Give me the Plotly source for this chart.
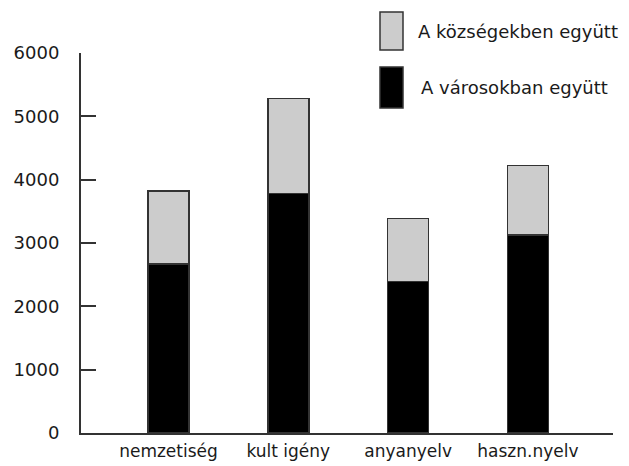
import plotly.graph_objects as go

categories = ["nemzetiség", "kult igény", "anyanyelv", "haszn.nyelv"]
varosokban = [2670, 3785, 2390, 3125]
kozsegekben = [1155, 1500, 1000, 1095]
series_names = ["A városokban együtt", "A községekben együtt"]
y_ticks = [0, 1000, 2000, 3000, 4000, 5000, 6000]

W, H = 629, 466
OFF = 8  # page body margin offset
# target plot area in screenshot pixels
X0, X1, Y0, Y1 = 81, 613, 53, 433
ML, MT = X0 - OFF, Y0 - OFF
PW, PH = X1 - X0, Y1 - Y0
MR, MB = W - ML - PW, H - MT - PH

def px_x(x):
    return (x - X0) / PW

def px_y(y):
    return (Y1 - y) / PH

FONT = "DejaVu Sans"
TXT = "#1a1a1a"
OUT = "#333333"

fig = go.Figure()
fig.add_trace(go.Bar(
    x=categories, y=varosokban, name=series_names[0],
    marker=dict(color="#000000", line=dict(color=OUT, width=1.5)),
    width=0.342, showlegend=False,
))
fig.add_trace(go.Bar(
    x=categories, y=kozsegekben, name=series_names[1],
    marker=dict(color="#cccccc", line=dict(color=OUT, width=1.5)),
    width=0.342, showlegend=False,
))

# custom legend (large swatches)
legend_items = [
    (series_names[1], "#cccccc", 12, 50, 416),
    (series_names[0], "#000000", 67, 108, 419),
]
for name, col, y0, y1, tx in legend_items:
    fig.add_shape(type="rect", xref="paper", yref="paper",
                  x0=px_x(380), x1=px_x(403), y0=px_y(y1), y1=px_y(y0),
                  fillcolor=col, line=dict(color=OUT, width=1.5))
    fig.add_annotation(xref="paper", yref="paper", x=px_x(tx), y=px_y((y0 + y1) / 2),
                       text=name, showarrow=False, xanchor="left", yanchor="middle",
                       font=dict(family=FONT, size=18, color=TXT))

fig.update_layout(
    width=W, height=H, barmode="stack",
    margin=dict(l=ML, r=MR, t=MT, b=MB, autoexpand=False),
    paper_bgcolor="white", plot_bgcolor="white",
    font=dict(family=FONT, size=17, color=TXT),
    xaxis=dict(type="category", range=[-0.73, 3.71], showgrid=False,
               showline=True, linecolor=OUT, linewidth=2, ticks="",
               tickfont=dict(family=FONT, size=17, color=TXT),
               ticklabelstandoff=2, zeroline=False, automargin=False),
    yaxis=dict(range=[0, 6000], tickvals=y_ticks, showgrid=False,
               showline=True, linecolor=OUT, linewidth=2,
               ticks="inside", ticklen=15, tickwidth=2, tickcolor=OUT,
               tickfont=dict(family=FONT, size=18, color=TXT),
               ticklabelstandoff=16, zeroline=False, automargin=False),
)

fig.write_html("out.html")
